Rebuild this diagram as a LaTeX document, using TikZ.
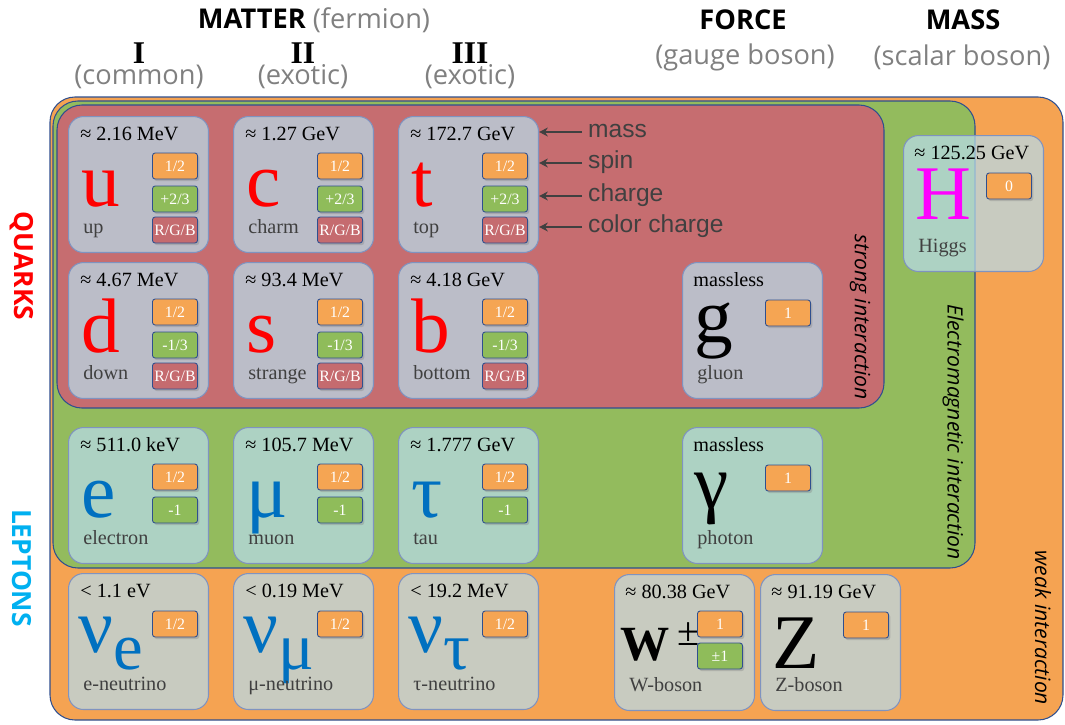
\documentclass[tikz,border=0pt]{standalone}
\usepackage{fontspec}
\setmainfont{Liberation Serif}
\newfontfamily\headfont{Open Sans}
\newfontfamily\legfont{Liberation Sans}
\usetikzlibrary{arrows.meta,calc,positioning,shadows}
\definecolor{weakOrange}{HTML}{F5A352}
\definecolor{emGreen}{HTML}{93BB5D}
\definecolor{strongRed}{HTML}{C66D70}
\definecolor{frameBlue}{HTML}{2F4F8F}
\definecolor{cardTint}{RGB}{184,219,234}
\definecolor{cardEdge}{HTML}{7F93C0}
\definecolor{boxOrange}{HTML}{F5A553}
\definecolor{boxGreen}{HTML}{8FBC5A}
\definecolor{boxRed}{HTML}{C56B6F}
\definecolor{quarkRed}{HTML}{FF0000}
\definecolor{leptonBlue}{HTML}{0070C0}
\definecolor{leptonCyan}{HTML}{00B0F0}
\definecolor{higgsPink}{HTML}{FF00FF}
\definecolor{textGray}{HTML}{404040}
\definecolor{headGray}{HTML}{808080}

\begin{document}
\begin{tikzpicture}[x=0.02cm, y=-0.02cm,
  region/.style={draw=frameBlue, line width=0.6pt, rounded corners=0.5cm},
  card/.style={draw=cardEdge, line width=0.6pt, fill=cardTint, fill opacity=0.73, rounded corners=0.3cm, minimum width=2.8cm, minimum height=2.72cm, anchor=north west, inner sep=0pt},
  qbox/.style={draw=frameBlue, line width=0.5pt, rounded corners=1.5pt, minimum width=0.9cm, minimum height=0.52cm, inner sep=0pt, text=white, font=\fontsize{9}{9}\selectfont, drop shadow={shadow xshift=1pt, shadow yshift=-1.2pt, opacity=0.35}},
  spinbox/.style={qbox, fill=boxOrange},
  chargebox/.style={qbox, fill=boxGreen},
  colorbox/.style={qbox, fill=boxRed},
  masstext/.style={anchor=base west, inner sep=0pt, font=\fontsize{11.5}{11.5}\selectfont},
  nametext/.style={anchor=base west, inner sep=0pt, text=textGray, font=\fontsize{11.5}{11.5}\selectfont},
  bigsym/.style={anchor=base west, inner sep=0pt, font=\fontsize{44}{44}\selectfont},
  hdtitle/.style={font=\headfont\bfseries\fontsize{15.5}{15.5}\selectfont},
  hdsub/.style={text=headGray, font=\headfont\fontsize{15.5}{15.5}\selectfont},
  gen/.style={font=\bfseries\fontsize{18}{18}\selectfont},
  sidelabel/.style={rotate=-90, font=\headfont\bfseries\fontsize{15}{15}\selectfont},
  interaction/.style={rotate=-90, font=\headfont\itshape\fontsize{12}{12}\selectfont},
  legend/.style={anchor=west, text height=1.4ex, text depth=0pt, text=textGray, font=\legfont\fontsize{14}{14}\selectfont},
  legarrow/.style={-{Stealth[length=5pt,width=5pt]}, draw=textGray, line width=1.2pt},
]
\useasboundingbox (0,0) rectangle (1065,724);

% interaction regions
\draw[region, fill=weakOrange] (50,97) rectangle (1063,720);
\draw[region, fill=emGreen] (53,101) rectangle (975,568);
\draw[region, fill=strongRed] (57,105) rectangle (884,408);

% headings
\node[hdtitle] (hd-matter) at (314,20) {MATTER \textcolor{headGray}{\mdseries(fermion)}};
\node[hdtitle] (hd-force) at (743,20) {FORCE};
\node[hdsub] (hd-gauge) at (745,57) {(gauge boson)};
\node[hdtitle] (hd-mass) at (963,20) {MASS};
\node[hdsub] (hd-scalar) at (962,57) {(scalar boson)};
\foreach \gname/\gx/\gnum/\gsub in {one/139/I/common, two/303/II/exotic, three/470/III/exotic} {
  \node[gen] (gen-\gname) at (\gx,53) {\gnum};
  \node[hdsub] (sub-\gname) at (\gx,77) {(\gsub)};
}
\node[sidelabel, text=quarkRed] (quarks) at (22,266) {QUARKS};
\node[sidelabel, text=leptonCyan] (leptons) at (22,568) {LEPTONS};
\node[interaction] (strong) at (860,317) {strong interaction};
\node[interaction] (electromagnetic) at (953,432) {Electromagnetic interaction};
\node[interaction] (weak) at (1043,628) {weak interaction};

% quarks
\foreach \pname/\px/\py/\pmass/\psym/\plabel/\pcharge in {
  u/68/116/{≈ 2.16 MeV}/u/up/{+2/3},
  c/233/116/{≈ 1.27 GeV}/c/charm/{+2/3},
  t/398/116/{≈ 172.7 GeV}/t/top/{+2/3},
  d/68/262/{≈ 4.67 MeV}/d/down/{-1/3},
  s/233/262/{≈ 93.4 MeV}/s/strange/{-1/3},
  b/398/262/{≈ 4.18 GeV}/b/bottom/{-1/3}} {
  \node[card] (c-\pname) at (\px,\py) {};
  \node[masstext] (m-\pname) at ([shift={(12,24)}]c-\pname.north west) {\pmass};
  \node[bigsym, text=quarkRed] (sym-\pname) at ([shift={(13,90)}]c-\pname.north west) {\psym};
  \node[nametext] (n-\pname) at ([shift={(15,117)}]c-\pname.north west) {\plabel};
  \node[spinbox] (sp-\pname) at ([shift={(107,50)}]c-\pname.north west) {1/2};
  \node[chargebox] (ch-\pname) at ([shift={(107,83)}]c-\pname.north west) {\pcharge};
  \node[colorbox] (co-\pname) at ([shift={(107,114)}]c-\pname.north west) {R/G/B};
}

% charged leptons
\foreach \pname/\px/\pmass/\psym/\plabel in {
  e/68/{≈ 511.0 keV}/e/electron,
  mu/233/{≈ 105.7 MeV}/μ/muon,
  tau/398/{≈ 1.777 GeV}/τ/tau} {
  \node[card] (c-\pname) at (\px,427) {};
  \node[masstext] (m-\pname) at ([shift={(12,24)}]c-\pname.north west) {\pmass};
  \node[bigsym, text=leptonBlue] (sym-\pname) at ([shift={(13,90)}]c-\pname.north west) {\psym};
  \node[nametext] (n-\pname) at ([shift={(15,117)}]c-\pname.north west) {\plabel};
  \node[spinbox] (sp-\pname) at ([shift={(107,50)}]c-\pname.north west) {1/2};
  \node[chargebox] (ch-\pname) at ([shift={(107,83)}]c-\pname.north west) {-1};
}

% neutrinos
\foreach \pname/\px/\pmass/\psub/\plabel in {
  nue/68/{< 1.1 eV}/e/e-neutrino,
  numu/233/{< 0.19 MeV}/μ/μ-neutrino,
  nutau/398/{< 19.2 MeV}/τ/τ-neutrino} {
  \node[card] (c-\pname) at (\px,573) {};
  \node[masstext] (m-\pname) at ([shift={(12,24)}]c-\pname.north west) {\pmass};
  \node[bigsym, text=leptonBlue] (sym-\pname) at ([shift={(10,79)}]c-\pname.north west) {ν\raisebox{-10pt}{\fontsize{38}{38}\selectfont\psub}};
  \node[nametext] (n-\pname) at ([shift={(15,117)}]c-\pname.north west) {\plabel};
  \node[spinbox] (sp-\pname) at ([shift={(107,51)}]c-\pname.north west) {1/2};
}

% bosons
\foreach \pname/\px/\py/\pmass/\psym/\pbase/\plabel/\pspin/\pcol in {
  g/682/262/massless/g/80/gluon/1/black,
  gamma/682/427/massless/γ/81/photon/1/black,
  H/903/135/{≈ 125.25 GeV}/H/84/Higgs/0/higgsPink,
  Z/760/574/{≈ 91.19 GeV}/Z/94/Z-boson/1/black} {
  \node[card] (c-\pname) at (\px,\py) {};
  \node[masstext] (m-\pname) at ([shift={(11,24)}]c-\pname.north west) {\pmass};
  \node[bigsym, text=\pcol] (sym-\pname) at ([shift={(12,\pbase)}]c-\pname.north west) {\psym};
  \node[nametext] (n-\pname) at ([shift={(15,117)}]c-\pname.north west) {\plabel};
  \node[spinbox] (sp-\pname) at ([shift={(106,51)}]c-\pname.north west) {\pspin};
}
\node[card] (c-W) at (614,574) {};
\node[masstext] (m-W) at ([shift={(11,24)}]c-W.north west) {≈ 80.38 GeV};
\node[bigsym] (sym-W) at ([shift={(6,86)}]c-W.north west) {\fontsize{28}{28}\selectfont\bfseries W\,\raisebox{8pt}{\mdseries\fontsize{23}{23}\selectfont ±}};
\node[nametext] (n-W) at ([shift={(15,117)}]c-W.north west) {W-boson};
\node[spinbox] (sp-W) at ([shift={(106,50)}]c-W.north west) {1};
\node[chargebox] (ch-W) at ([shift={(106,82)}]c-W.north west) {±1};

% legend
\node[legend] (lg-mass) at (582,132) {mass};
\node[legend] (lg-spin) at (582,163) {spin};
\node[legend] (lg-charge) at (582,196) {charge};
\node[legend] (lg-color) at (582,227) {color charge};
\foreach \lg in {mass, spin, charge, color} {
  \draw[legarrow] (lg-\lg.west) -- (c-t.east |- lg-\lg.west);
}
\end{tikzpicture}
\end{document}
